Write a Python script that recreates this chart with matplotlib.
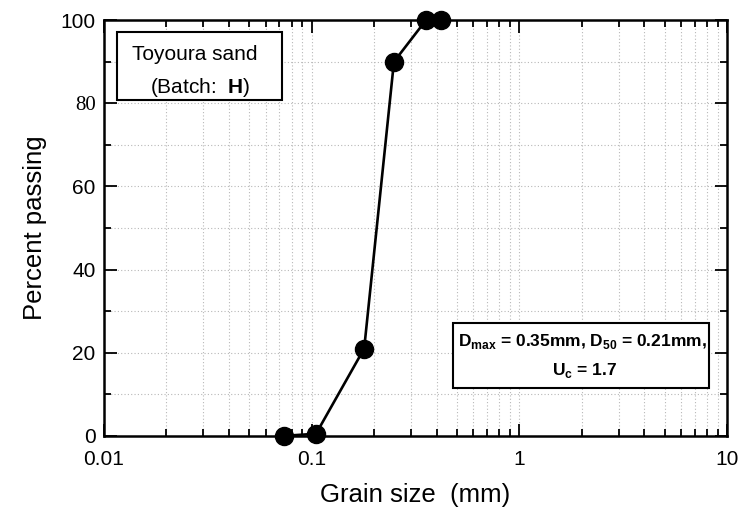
import numpy as np
import matplotlib
matplotlib.use("Agg")
import matplotlib.pyplot as plt
from matplotlib.patches import Rectangle
from matplotlib.ticker import LogLocator, FixedLocator, NullFormatter

# grain size distribution data
grain_size = [0.074, 0.105, 0.179, 0.249, 0.355, 0.42]
passing = [0.0, 0.5, 21.0, 90.0, 100.0, 100.0]

xticks = [0.01, 0.1, 1, 10]
xtick_labels = ["0.01", "0.1", "1", "10"]
yticks = [0, 20, 40, 60, 80, 100]
yminor = [10, 30, 50, 70, 90]

plt.rcParams['font.family'] = ['Liberation Sans', 'DejaVu Sans']
plt.rcParams['mathtext.fontset'] = 'custom'
plt.rcParams['mathtext.rm'] = 'Liberation Sans'
plt.rcParams['mathtext.bf'] = 'Liberation Sans:bold'

fig = plt.figure(figsize=(7.42, 5.17), dpi=100)
ax = fig.add_axes([0.140, 0.157, 0.840, 0.804])

ax.plot(grain_size, passing, color="black", linewidth=1.9, marker="o",
        markersize=13, markerfacecolor="black", zorder=5, clip_on=False)

ax.set_xscale("log")
ax.set_xlim(0.01, 10)
ax.set_ylim(0, 100)

ax.xaxis.set_major_locator(FixedLocator(xticks))
ax.set_xticklabels(xtick_labels)
ax.xaxis.set_minor_locator(LogLocator(base=10, subs=np.arange(2, 10)))
ax.xaxis.set_minor_formatter(NullFormatter())
ax.yaxis.set_major_locator(FixedLocator(yticks))
ax.yaxis.set_minor_locator(FixedLocator(yminor))

# dotted grid
gkw = dict(color="#b8b8b8", linestyle=(0, (1, 2)), linewidth=0.8)
ax.grid(which="both", axis="both", **gkw)

ax.tick_params(which="both", direction="in", top=True, right=True,
               labelsize=15, width=1.3)
ax.tick_params(which="major", length=9)
ax.tick_params(which="minor", length=5)
ax.tick_params(axis="x", pad=10)
ax.tick_params(axis="y", pad=6)
for s in ax.spines.values():
    s.set_linewidth(1.8)

ax.set_xlabel("Grain size  (mm)", fontsize=18.5, labelpad=10)
ax.set_ylabel("Percent passing", fontsize=18.5, labelpad=10)

# boxes with annotations
ax.add_patch(Rectangle((0.021, 0.808), 0.265, 0.163, transform=ax.transAxes,
                       facecolor="white", edgecolor="black", linewidth=1.5, zorder=6))
ax.text(0.146, 0.918, "Toyoura sand", transform=ax.transAxes, fontsize=15,
        ha="center", va="center", zorder=7)
ax.text(0.154, 0.837, "(Batch:  $\\mathbf{H}$)", transform=ax.transAxes, fontsize=15,
        ha="center", va="center", zorder=7)

ax.add_patch(Rectangle((0.560, 0.115), 0.411, 0.156, transform=ax.transAxes,
                       facecolor="white", edgecolor="black", linewidth=1.5, zorder=6))
ax.text(0.768, 0.226, "D$_{\\mathbf{max}}$ = 0.35mm, D$_{\\mathbf{50}}$ = 0.21mm,",
        transform=ax.transAxes, fontsize=12.5, fontweight="bold",
        ha="center", va="center", zorder=7)
ax.text(0.772, 0.158, "U$_{\\mathbf{c}}$ = 1.7",
        transform=ax.transAxes, fontsize=12.5, fontweight="bold",
        ha="center", va="center", zorder=7)

# the 80 label is set in a serif face in the original
fig.canvas.draw()
for lab in ax.get_yticklabels():
    if lab.get_text() == "80":
        lab.set_family("Liberation Serif")

plt.savefig("out.png", dpi=100)
